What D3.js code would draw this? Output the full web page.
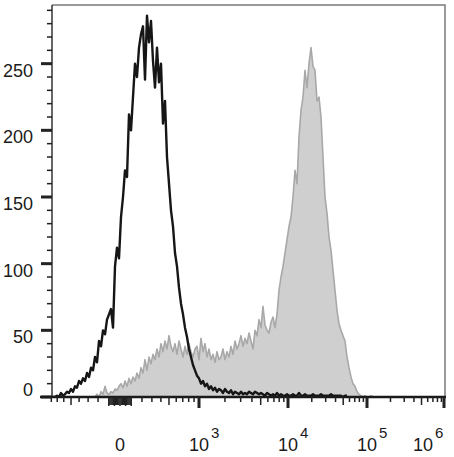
<!DOCTYPE html>
<html>
<head>
<meta charset="utf-8">
<script src="https://cdn.jsdelivr.net/npm/d3@7"></script>
<style>
  body { margin: 0; background: #fff; }
  text { font-family: "Liberation Sans", Arial, sans-serif; fill: #1a1a1a; }
</style>
</head>
<body>
<div id="container"></div>
<script>
/* CONSTANTS AND GLOBALS */
const width = 454,
      height = 457,
      margin = {top: 5, left: 52, bottom: 60, right: 9};

// histogram counts, one value per display bin (bins are evenly spaced across the axis)
const binCount = 197;
const blackStart = 0;
const blackCounts = [
  0, 0, 1, 0, 3, 1, 2, 4, 3, 6, 4, 8, 7, 12, 10, 14, 12, 18, 15, 22,
  20, 30, 26, 42, 38, 50, 47, 58, 62, 66, 52, 98, 112, 104, 135, 150, 170, 165, 212, 200,
  225, 250, 240, 262, 272, 278, 238, 286, 266, 282, 252, 232, 262, 236, 250, 205, 222, 180, 160, 140,
  128, 108, 98, 82, 70, 62, 52, 45, 36, 30, 24, 20, 16, 14, 10, 12, 8, 10, 6, 8,
  5, 7, 4, 6, 5, 3, 6, 4, 3, 5, 2, 4, 3, 2, 4, 2, 3, 2, 4, 3,
  2, 4, 3, 2, 3, 2, 1, 3, 2, 1, 2, 1, 3, 1, 2, 1, 1, 2, 1, 1,
  2, 1, 1, 3, 1, 1, 2, 1, 1, 1, 2, 1, 1, 1, 2, 1, 1, 1, 1, 2,
  1, 1, 1, 1, 1, 0, 1, 1
];
const grayStart = 21;
const grayCounts = [
  0, 2, 0, 4, 2, 8, 3, 2, 4, 3, 6, 5, 8, 10, 7, 12, 8, 14, 10, 15,
  12, 18, 14, 22, 18, 28, 20, 30, 25, 32, 28, 36, 30, 40, 34, 42, 36, 46, 38, 34,
  40, 32, 42, 36, 30, 38, 32, 40, 34, 30, 36, 38, 28, 44, 34, 40, 30, 36, 28, 32,
  26, 34, 28, 30, 36, 28, 34, 30, 38, 32, 42, 36, 40, 46, 38, 44, 40, 48, 42, 36,
  50, 46, 58, 52, 68, 54, 50, 48, 56, 60, 52, 62, 80, 90, 98, 108, 118, 128, 135, 150,
  170, 160, 195, 215, 225, 245, 232, 250, 262, 248, 245, 222, 225, 210, 180, 150, 138, 120, 110, 95,
  80, 65, 55, 50, 46, 42, 30, 22, 15, 10, 8, 4, 2, 1, 0, 1, 0, 0, 1, 0
];

// axis ticks
const yMax = 294;
const yMajor = [0, 50, 100, 150, 200, 250];
const xMajor = [0, 1e3, 1e4, 1e5, 1e6];
const xLabels = [
  {v: 0, base: "0", exp: ""},
  {v: 1e3, base: "10", exp: "3"},
  {v: 1e4, base: "10", exp: "4"},
  {v: 1e5, base: "10", exp: "5"},
  {v: 1e6, base: "10", exp: "6"}
];

/* SCALES */
const plotL = margin.left, plotR = width - margin.right,
      plotT = margin.top, plotB = height - margin.bottom;

const yScale = d3.scaleLinear()
                 .domain([0, yMax])
                 .range([plotB, plotT]);

const binScale = d3.scaleLinear()
                   .domain([0, binCount])
                   .range([plotL, plotL + binCount * 2]);

// biexponential-style display for the x axis
const W = 460;
const biex = v => Math.asinh(v / W);
const biexScale = d3.scaleLinear()
                    .domain([-1000, 0, 1e3, 1e4, 1e5, 1e6].map(biex))
                    .range([41, 120, 199, 288, 367, plotR]);
const xScale = v => biexScale(biex(v));

/* SVG */
const svg = d3.select("#container")
              .append("svg")
              .attr("width", width)
              .attr("height", height);

svg.append("clipPath").attr("id", "clip")
   .append("rect")
   .attr("x", plotL).attr("y", plotT - 2)
   .attr("width", plotR - plotL).attr("height", plotB - plotT + 2);

const area = d3.area()
               .x((d, i) => binScale(grayStart + i + 0.5))
               .y0(yScale(0))
               .y1(d => yScale(d));

const grayLine = d3.line()
                   .x((d, i) => binScale(grayStart + i + 0.5))
                   .y(d => yScale(d));

const blackLine = d3.line()
                    .x((d, i) => binScale(blackStart + i + 0.5))
                    .y(d => yScale(d));

const g = svg.append("g").attr("clip-path", "url(#clip)");

g.append("path")
 .datum(grayCounts)
 .attr("fill", "#cfcfcf")
 .attr("d", area);

g.append("path")
 .datum(grayCounts)
 .attr("fill", "none")
 .attr("stroke", "#a8a8a8")
 .attr("stroke-width", 1.6)
 .attr("stroke-linejoin", "round")
 .attr("d", grayLine);

g.append("path")
 .datum(blackCounts)
 .attr("fill", "none")
 .attr("stroke", "#161616")
 .attr("stroke-width", 2.4)
 .attr("stroke-linejoin", "round")
 .attr("d", blackLine);

/* FRAME */
svg.append("path")
   .attr("d", `M${plotL},${plotT}H${plotR}V${plotB}`)
   .attr("fill", "none")
   .attr("stroke", "#7a7a7a")
   .attr("stroke-width", 1.5);

/* Y AXIS */
const yAxis = svg.append("g");
yAxis.append("line")
     .attr("x1", plotL).attr("x2", plotL)
     .attr("y1", plotT).attr("y2", plotB)
     .attr("stroke", "#333").attr("stroke-width", 1.5);

const yTicks = d3.range(0, yMax + 1, 10);
yAxis.selectAll("line.tick")
     .data(yTicks)
     .join("line")
     .attr("class", "tick")
     .attr("x1", d => yMajor.includes(d) ? plotL - 11 : plotL - 5)
     .attr("x2", plotL)
     .attr("y1", d => yScale(d)).attr("y2", d => yScale(d))
     .attr("stroke", "#222")
     .attr("stroke-width", d => yMajor.includes(d) ? 3 : 1.5);

yAxis.selectAll("text")
     .data(yMajor)
     .join("text")
     .attr("x", 33)
     .attr("y", d => d === 0 ? yScale(d) - 1 : yScale(d) + 13)
     .attr("text-anchor", "end")
     .attr("font-size", 18)
     .text(d => d);

/* X AXIS */
const xAxis = svg.append("g");
xAxis.append("line")
     .attr("x1", 40).attr("x2", plotR + 1)
     .attr("y1", plotB).attr("y2", plotB)
     .attr("stroke", "#1a1a1a").attr("stroke-width", 2.5);

let minorTicks = [];
d3.range(-100, 101, 10).forEach(v => minorTicks.push({v: v, len: v % 50 === 0 ? 9 : 8}));
[200, 300, 400, 500, 600, 700, 800, 900].forEach(v => {
  minorTicks.push({v: v, len: v === 500 ? 8 : 5});
  minorTicks.push({v: -v, len: v === 500 ? 8 : 5});
});
[1e3, 1e4, 1e5].forEach(dec => {
  d3.range(2, 10).forEach(m => minorTicks.push({v: m * dec, len: m === 5 ? 8 : 5}));
});
minorTicks = minorTicks.filter(d => xScale(d.v) >= plotL - 1);

xAxis.selectAll("line.minor")
     .data(minorTicks)
     .join("line")
     .attr("class", "minor")
     .attr("x1", d => xScale(d.v)).attr("x2", d => xScale(d.v))
     .attr("y1", plotB).attr("y2", d => plotB + d.len)
     .attr("stroke", "#222").attr("stroke-width", 1.5);

xAxis.selectAll("line.major")
     .data(xMajor.slice(1))
     .join("line")
     .attr("class", "major")
     .attr("x1", d => Math.min(xScale(d), plotR - 1)).attr("x2", d => Math.min(xScale(d), plotR - 1))
     .attr("y1", plotB).attr("y2", plotB + 11)
     .attr("stroke", "#222").attr("stroke-width", 3);

const labels = xAxis.selectAll("text")
     .data(xLabels)
     .join("text")
     .attr("x", d => d.v === 1e6 ? 413 : xScale(d.v) - 10)
     .attr("y", 451)
     .attr("font-size", 18);
labels.filter(d => d.v === 0)
      .attr("x", xScale(0))
      .attr("text-anchor", "middle");
labels.append("tspan").text(d => d.base);
labels.append("tspan")
      .attr("dy", -13)
      .attr("dx", 2)
      .attr("font-size", 15)
      .text(d => d.exp);
</script>
</body>
</html>
